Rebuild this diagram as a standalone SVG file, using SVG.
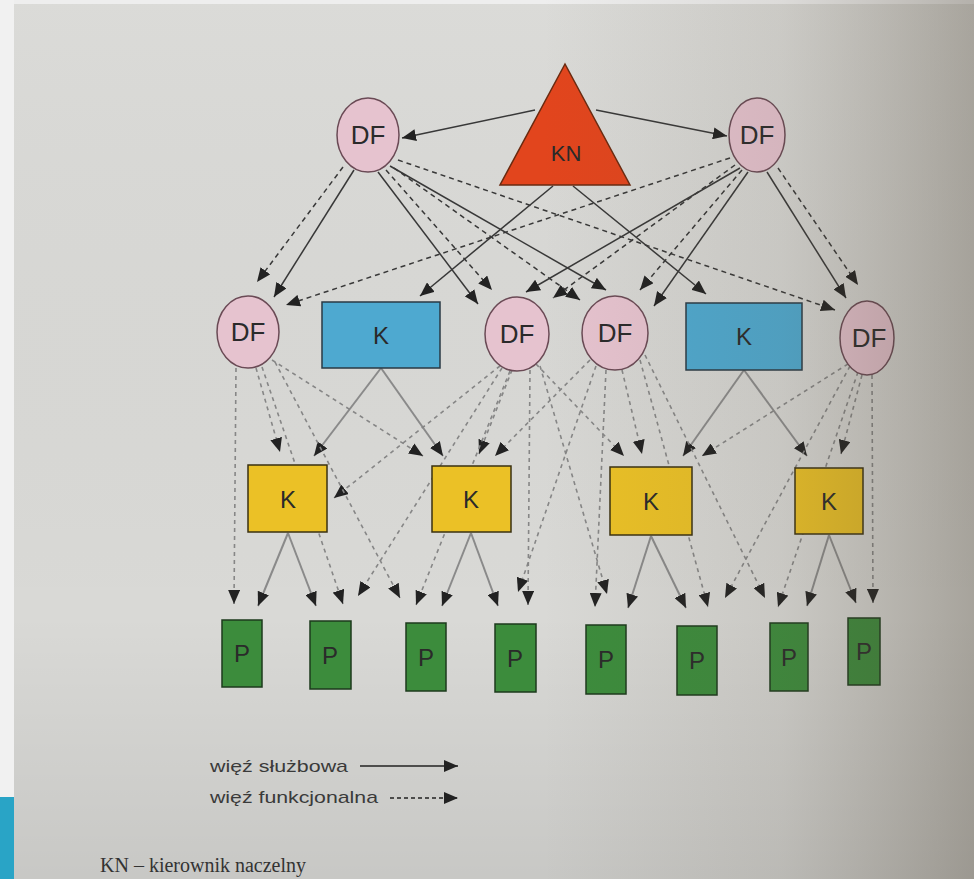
<svg xmlns="http://www.w3.org/2000/svg" width="974" height="879" viewBox="0 0 974 879">
<defs>
<linearGradient id="shade" x1="0" y1="0" x2="1" y2="0">
<stop offset="0" stop-color="#5a5040" stop-opacity="0"/>
<stop offset="0.55" stop-color="#5a5040" stop-opacity="0"/>
<stop offset="0.8" stop-color="#5a5040" stop-opacity="0.12"/>
<stop offset="1" stop-color="#4a4030" stop-opacity="0.35"/>
</linearGradient>
<linearGradient id="vshade" x1="0" y1="0" x2="0" y2="1">
<stop offset="0" stop-color="#ffffff" stop-opacity="0.05"/>
<stop offset="0.7" stop-color="#000000" stop-opacity="0"/>
<stop offset="1" stop-color="#000000" stop-opacity="0.08"/>
</linearGradient>
<marker id="ah" viewBox="0 0 14 12" markerWidth="14" markerHeight="12" refX="14" refY="6" orient="auto" markerUnits="userSpaceOnUse">
<path d="M0,0 L14,6 L0,12 z" fill="#222"/>
</marker>
</defs>
<style>
.df{fill:#e6c3cf;stroke:#6a4a55;stroke-width:1.5}
.kb{fill:#4ea9d0;stroke:#2a3a44;stroke-width:1.5}
.ky{fill:#ebc126;stroke:#3a3010;stroke-width:1.5}
.p{fill:#3c8c3c;stroke:#1c3a1c;stroke-width:1.5}
.lbl{font-family:"Liberation Sans",Arial,sans-serif;fill:#2a2a2a;text-anchor:middle}
.s{fill:none;stroke:#383838;stroke-width:1.5;marker-end:url(#ah)}
.d{fill:none;stroke:#383838;stroke-width:1.5;stroke-dasharray:5 4;marker-end:url(#ah)}
.sg{fill:none;stroke:#8a8a8a;stroke-width:2;marker-end:url(#ah)}
.dg{fill:none;stroke:#868686;stroke-width:1.6;stroke-dasharray:4 4;marker-end:url(#ah)}
.leg{font-family:"Liberation Sans",Arial,sans-serif;font-size:17px;fill:#3a3a3a}
</style>
<rect x="0" y="0" width="974" height="879" fill="#d9d9d6"/>
<rect x="0" y="0" width="974" height="879" fill="url(#vshade)"/>
<rect x="0" y="0" width="14" height="797" fill="#f1f1f1"/>
<rect x="0" y="797" width="14" height="82" fill="#29a4c6"/>
<rect x="14" y="0" width="960" height="4" fill="#eeeeee"/>

<g id="connectors">
<path class="s" d="M535,110 L402,138"/>
<path class="s" d="M596,110 L727,136"/>
<path class="s" d="M553,186 L420,296"/>
<path class="s" d="M573,186 L706,294"/>
<path class="s" d="M354,170 L274,297"/>
<path class="s" d="M378,172 L478,304"/>
<path class="s" d="M390,166 L606,290"/>
<path class="s" d="M740,168 L526,292"/>
<path class="s" d="M748,172 L654,306"/>
<path class="s" d="M767,172 L846,298"/>
<path class="d" d="M343,167 L257,282"/>
<path class="d" d="M386,170 L492,290"/>
<path class="d" d="M394,168 L580,300"/>
<path class="d" d="M398,160 L835,310"/>
<path class="d" d="M730,158 L286,305"/>
<path class="d" d="M735,165 L553,298"/>
<path class="d" d="M742,170 L640,290"/>
<path class="d" d="M778,168 L858,285"/>

<path class="sg" d="M381,368 L314,456"/>
<path class="sg" d="M381,368 L443,456"/>
<path class="sg" d="M744,370 L683,456"/>
<path class="sg" d="M744,370 L807,456"/>
<path class="dg" d="M256,368 L280,452"/>
<path class="dg" d="M272,360 L423,456"/>
<path class="dg" d="M500,366 L334,498"/>
<path class="dg" d="M512,370 L479,454"/>
<path class="dg" d="M590,360 L495,456"/>
<path class="dg" d="M536,364 L624,456"/>
<path class="dg" d="M622,370 L642,454"/>
<path class="dg" d="M848,364 L702,456"/>
<path class="dg" d="M862,375 L841,454"/>

<path class="dg" d="M236,368 L234,604"/>
<path class="dg" d="M262,367 L343,604"/>
<path class="dg" d="M275,362 L400,598"/>
<path class="dg" d="M502,368 L358,596"/>
<path class="dg" d="M510,371 L416,605"/>
<path class="dg" d="M596,366 L518,592"/>
<path class="dg" d="M530,370 L528,605"/>
<path class="dg" d="M606,370 L595,607"/>
<path class="dg" d="M540,366 L607,594"/>
<path class="dg" d="M640,360 L708,607"/>
<path class="dg" d="M850,366 L725,598"/>
<path class="dg" d="M645,355 L765,598"/>
<path class="dg" d="M858,372 L778,607"/>
<path class="dg" d="M872,375 L873,603"/>

<path class="sg" d="M288,533 L258,606"/>
<path class="sg" d="M288,533 L316,606"/>
<path class="sg" d="M471,533 L442,606"/>
<path class="sg" d="M471,533 L498,606"/>
<path class="sg" d="M651,536 L628,608"/>
<path class="sg" d="M651,536 L686,608"/>
<path class="sg" d="M829,535 L807,606"/>
<path class="sg" d="M829,535 L856,603"/>
</g>

<g id="KN"><polygon points="565,64 630,185 500,185" fill="#e2451d" stroke="#6a2a10" stroke-width="1.5"/><text class="lbl" x="566" y="161" font-size="22">KN</text></g>
<g id="DF_top_left"><ellipse class="df" cx="368" cy="135" rx="31" ry="37"/><text class="lbl" x="368" y="144" font-size="26">DF</text></g>
<g id="DF_top_right"><ellipse class="df" cx="757" cy="135" rx="28" ry="37"/><text class="lbl" x="757" y="144" font-size="26">DF</text></g>

<g id="DF_1"><ellipse class="df" cx="248" cy="332" rx="31" ry="36"/><text class="lbl" x="248" y="341" font-size="26">DF</text></g>
<g id="K_blue_1"><rect class="kb" x="322" y="302" width="118" height="66"/><text class="lbl" x="381" y="344" font-size="24">K</text></g>
<g id="DF_2"><ellipse class="df" cx="517" cy="334" rx="32" ry="37"/><text class="lbl" x="517" y="343" font-size="26">DF</text></g>
<g id="DF_3"><ellipse class="df" cx="615" cy="333" rx="33" ry="37"/><text class="lbl" x="615" y="342" font-size="26">DF</text></g>
<g id="K_blue_2"><rect class="kb" x="686" y="303" width="116" height="67"/><text class="lbl" x="744" y="345" font-size="24">K</text></g>
<g id="DF_4"><ellipse class="df" cx="867" cy="338" rx="27" ry="37"/><text class="lbl" x="869" y="347" font-size="26">DF</text></g>

<g id="K_yellow_1"><rect class="ky" x="248" y="465" width="79" height="67"/><text class="lbl" x="288" y="508" font-size="24">K</text></g>
<g id="K_yellow_2"><rect class="ky" x="432" y="466" width="79" height="66"/><text class="lbl" x="471" y="508" font-size="24">K</text></g>
<g id="K_yellow_3"><rect class="ky" x="610" y="467" width="82" height="68"/><text class="lbl" x="651" y="510" font-size="24">K</text></g>
<g id="K_yellow_4"><rect class="ky" x="795" y="468" width="68" height="66"/><text class="lbl" x="829" y="510" font-size="24">K</text></g>

<g id="P_1"><rect class="p" x="222" y="620" width="40" height="67"/><text class="lbl" x="242" y="662" font-size="24">P</text></g>
<g id="P_2"><rect class="p" x="310" y="621" width="41" height="68"/><text class="lbl" x="330" y="664" font-size="24">P</text></g>
<g id="P_3"><rect class="p" x="406" y="623" width="40" height="68"/><text class="lbl" x="426" y="666" font-size="24">P</text></g>
<g id="P_4"><rect class="p" x="495" y="624" width="41" height="68"/><text class="lbl" x="515" y="667" font-size="24">P</text></g>
<g id="P_5"><rect class="p" x="586" y="625" width="40" height="69"/><text class="lbl" x="606" y="668" font-size="24">P</text></g>
<g id="P_6"><rect class="p" x="677" y="626" width="40" height="69"/><text class="lbl" x="697" y="669" font-size="24">P</text></g>
<g id="P_7"><rect class="p" x="770" y="623" width="38" height="68"/><text class="lbl" x="789" y="666" font-size="24">P</text></g>
<g id="P_8"><rect class="p" x="848" y="618" width="32" height="67"/><text class="lbl" x="864" y="660" font-size="24">P</text></g>

<g id="legend">
<text class="leg" x="210" y="772" textLength="138" lengthAdjust="spacingAndGlyphs">więź służbowa</text>
<path class="s" d="M360,766 L458,766" style="stroke:#222"/>
<text class="leg" x="210" y="803" textLength="168" lengthAdjust="spacingAndGlyphs">więź funkcjonalna</text>
<path class="d" d="M390,798 L458,798" style="stroke:#222;stroke-dasharray:4 3"/>
</g>
<text x="100" y="872" font-family="'Liberation Serif','Times New Roman',serif" font-size="20" fill="#333">KN – kierownik naczelny</text>

<rect x="14" y="0" width="960" height="879" fill="url(#shade)"/>
</svg>
